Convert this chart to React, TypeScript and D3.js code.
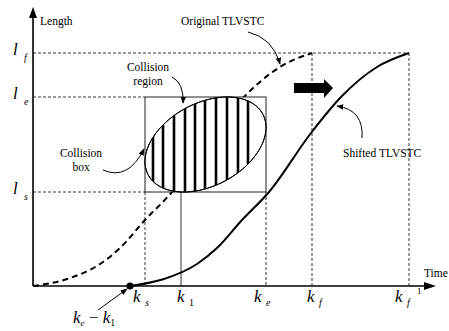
import React from 'react';
import * as d3 from 'd3';

// ---- data ----
const timeTickNames = ['s', '1', 'e', 'f', 'f'];
const timeTickValues = [112, 148, 233, 279, 376];
const lengthNames = ['f', 'e', 's'];
const lengthValues = [233, 189, 94];
const originalTime = [0, 34, 67, 87, 112, 139, 181, 211, 247, 279];
const originalLength = [0, 7, 22, 38, 66, 94, 153, 189, 219, 233];
const shiftAmount = 97;
const hatchTimes = [120, 130, 141, 152, 162, 172, 183, 194, 205, 215];

const W = 449;
const H = 331;
const SERIF = { fontFamily: '"Liberation Serif"' };

export default function App() {
  const x = d3.scaleLinear().domain([0, 400]).range([33, 433]);
  const y = d3.scaleLinear().domain([0, 276]).range([286, 10]);

  const orig: [number, number][] = originalTime.map((t, i) => [t, originalLength[i]]);
  const shifted: [number, number][] = originalTime.map((t, i) => [t + shiftAmount, originalLength[i]]);
  const line = d3
    .line<[number, number]>()
    .x((d) => x(d[0]))
    .y((d) => y(d[1]))
    .curve(d3.curveMonotoneX);

  const [ks, k1, ke, kf, kf1] = timeTickValues;
  const [lf, le, ls] = lengthValues;

  // collision box
  const bx0 = x(ks), bx1 = x(ke), by0 = y(le), by1 = y(ls);
  const cx = (bx0 + bx1) / 2, cy = (by0 + by1) / 2;
  const rw = (bx1 - bx0) / 2, rh = (by1 - by0) / 2;
  const phi = Math.acos(-0.36);
  const ellPts: [number, number][] = d3.range(0, Math.PI * 2, Math.PI / 90).map((t) => [
    cx + rw * Math.cos(t),
    cy + rh * Math.cos(t + phi),
  ]);
  const ellPath = d3.line().curve(d3.curveLinearClosed)(ellPts) || '';

  const dash = { stroke: '#000', strokeWidth: 0.8, strokeDasharray: '3,2', fill: 'none' };

  const kOffsets = [-12, -4, -12, -5, -14];

  return (
    <svg width={W} height={H} style={{ position: 'absolute', left: 0, top: 0, background: '#fff', fontFamily: '"Liberation Serif"' }}>
      <defs>
        <marker id="ah" viewBox="0 0 10 10" refX="9" refY="5" markerWidth="7" markerHeight="7" orient="auto">
          <path d="M0,1 L10,5 L0,9 z" fill="#000" />
        </marker>
        <clipPath id="ellClip">
          <path d={ellPath} />
        </clipPath>
      </defs>

      {/* reference lines */}
      <line x1={x(0)} x2={x(kf1)} y1={y(lf)} y2={y(lf)} style={dash} />
      <line x1={x(0)} x2={bx0} y1={y(le)} y2={y(le)} style={dash} />
      <line x1={x(0)} x2={bx0} y1={y(ls)} y2={y(ls)} style={dash} />
      <line x1={x(ks)} x2={x(ks)} y1={by1} y2={y(0)} style={dash} />
      <line x1={x(ke)} x2={x(ke)} y1={by1} y2={y(0)} style={dash} />
      <line x1={x(kf)} x2={x(kf)} y1={y(lf)} y2={y(0)} style={dash} />
      <line x1={x(kf1)} x2={x(kf1)} y1={y(lf)} y2={y(0)} style={dash} />
      <line x1={x(k1)} x2={x(k1)} y1={by1} y2={y(0)} stroke="#333" strokeWidth={1} />

      {/* original curve (dashed) */}
      <path d={line(orig) || ''} fill="none" stroke="#000" strokeWidth={2} strokeDasharray="6,4" />

      {/* collision box */}
      <rect x={bx0} y={by0} width={bx1 - bx0} height={by1 - by0} fill="#fff" stroke="#222" strokeWidth={1} />
      <path d={ellPath} fill="#fff" stroke="#000" strokeWidth={1} />
      <g clipPath="url(#ellClip)">
        {hatchTimes.map((t, i) => (
          <line key={i} x1={x(t)} x2={x(t)} y1={by0 - 2} y2={by1 + 2} stroke="#000" strokeWidth={2.6} />
        ))}
      </g>
      <path d={ellPath} fill="none" stroke="#000" strokeWidth={1} />

      {/* shifted curve */}
      <path d={line(shifted) || ''} fill="none" stroke="#000" strokeWidth={2} />
      <circle cx={x(shiftAmount)} cy={y(0)} r={3.6} fill="#000" />

      {/* axes */}
      <line x1={x(0)} x2={428} y1={y(0)} y2={y(0)} stroke="#000" strokeWidth={1.6} />
      <polygon points={`424,282 436,286 424,290`} fill="#000" />
      <line x1={x(0)} x2={x(0)} y1={y(0)} y2={16} stroke="#000" strokeWidth={1.6} />
      <polygon points={`29,18 33,7 37,18`} fill="#000" />

      {/* block arrow */}
      <polygon points="294,83 324,83 324,79 333,88 324,98 324,93 294,93" fill="#000" />

      {/* annotation arrows */}
      <path d="M248,32 Q273,38 280,64" fill="none" stroke="#000" strokeWidth={1} markerEnd="url(#ah)" />
      <path d="M172,77 Q184,83 183,103" fill="none" stroke="#000" strokeWidth={1} markerEnd="url(#ah)" />
      <path d="M103,170 Q128,181 144,149" fill="none" stroke="#000" strokeWidth={1} markerEnd="url(#ah)" />
      <path d="M362,138 Q364,110 337,106" fill="none" stroke="#000" strokeWidth={1} markerEnd="url(#ah)" />
      <path d="M98,310 L127,289" fill="none" stroke="#000" strokeWidth={1} markerEnd="url(#ah)" />

      {/* text labels */}
      <text x={40} y={25} fontSize={11.5} style={SERIF}>Length</text>
      <text x={424} y={277} fontSize={11.5} style={SERIF}>Time</text>
      <text x={181} y={25} fontSize={11.5} style={SERIF}>Original TLVSTC</text>
      <text x={148} y={71} fontSize={11.5} textAnchor="middle" style={SERIF}>Collision</text>
      <text x={148} y={85} fontSize={11.5} textAnchor="middle" style={SERIF}>region</text>
      <text x={81} y={157} fontSize={11.5} textAnchor="middle" style={SERIF}>Collision</text>
      <text x={81} y={171} fontSize={11.5} textAnchor="middle" style={SERIF}>box</text>
      <text x={343} y={157} fontSize={11.5} style={SERIF}>Shifted TLVSTC</text>

      {/* length level labels */}
      {lengthValues.map((v, i) => (
        <g key={'l' + i}>
          <text x={13} y={y(v) + 2} fontSize={17} fontStyle="italic" style={SERIF}>l</text>
          <text x={24} y={y(v) + 8} fontSize={10} fontStyle="italic" style={SERIF}>{lengthNames[i]}</text>
        </g>
      ))}

      {/* time tick labels */}
      {timeTickValues.map((v, i) => (
        <g key={'k' + i}>
          <text x={x(v) + kOffsets[i]} y={302} fontSize={17} fontStyle="italic" style={SERIF}>k</text>
          <text
            x={x(v) + kOffsets[i] + 12}
            y={306}
            fontSize={10}
            fontStyle={timeTickNames[i] === '1' ? 'normal' : 'italic'}
            style={SERIF}
          >
            {timeTickNames[i]}
          </text>
          {i === 4 && (
            <text x={x(v) + kOffsets[i] + 22} y={294} fontSize={9} style={SERIF}>1</text>
          )}
        </g>
      ))}

      {/* k_e - k_1 */}
      <text x={73} y={323} fontSize={17} style={SERIF}>
        <tspan fontStyle="italic">k</tspan>
        <tspan fontStyle="italic" fontSize={9} dy={3}>e</tspan>
        <tspan dy={-3}> − </tspan>
        <tspan fontStyle="italic">k</tspan>
        <tspan fontSize={10} dy={3}>1</tspan>
      </text>
    </svg>
  );
}
